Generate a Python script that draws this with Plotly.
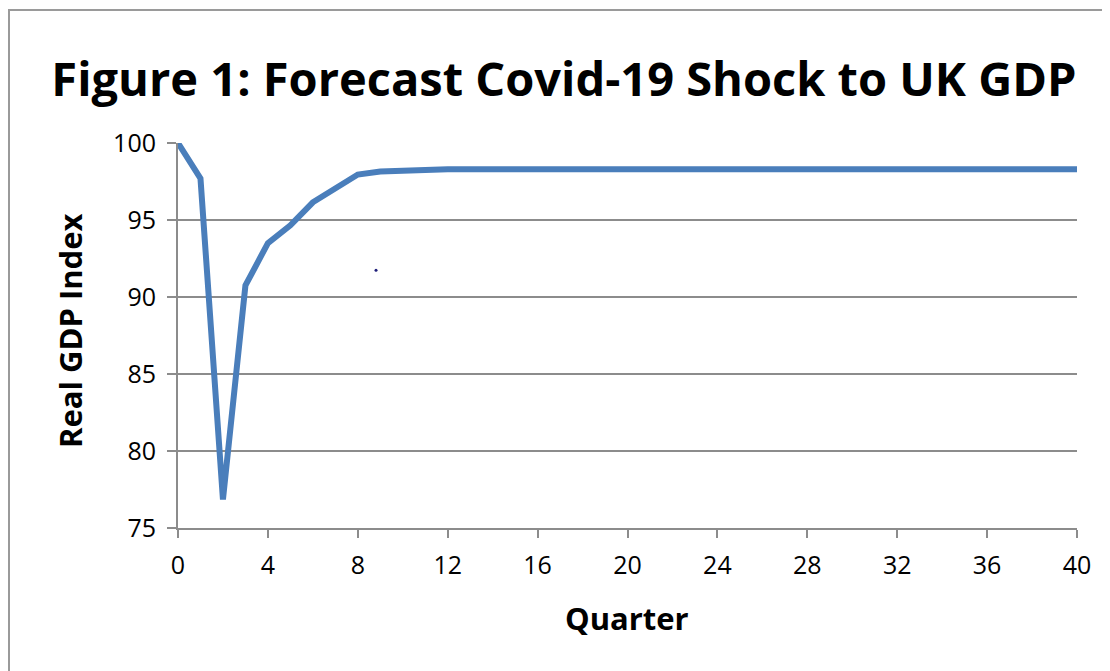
import plotly.graph_objects as go

quarters = list(range(0, 41))
gdp_index = [100.0, 97.7, 76.85, 90.75, 93.5, 94.65, 96.15, 97.1, 97.95, 98.15, 98.2, 98.3] + [98.3] * 29
dot_x = [8.81]
dot_y = [91.73]

x_ticks = list(range(0, 41, 4))
y_ticks = [75, 80, 85, 90, 95, 100]

title_text = "Figure 1: Forecast Covid-19 Shock to UK GDP"
x_title = "Quarter"
y_title = "Real GDP Index"

fig = go.Figure()
fig.add_trace(go.Scatter(x=quarters, y=gdp_index, mode="lines",
                         line=dict(color="#4A7EBB", width=6), showlegend=False,
                         cliponaxis=False))
fig.add_trace(go.Scatter(x=dot_x, y=dot_y, mode="markers",
                         marker=dict(color="#1F1F7A", size=3), showlegend=False))

grid_col = "#8C8C8C"
W, H = 1102, 663
L, R, T, B = 170, 33, 135, 143
pw = W - L - R
ph = H - T - B

fig.update_layout(
    width=W, height=H,
    margin=dict(l=L, r=R, t=T, b=B),
    paper_bgcolor="white", plot_bgcolor="white",
    font=dict(family="Open Sans, Lato, sans-serif", color="#000000"),
    title=dict(text=title_text, x=556 / W, xanchor="center", y=1 - 72 / H, yanchor="middle",
               font=dict(family="Open Sans", size=47, color="#000000", weight="bold")),
    xaxis=dict(range=[0, 40], tickvals=x_ticks, ticks="outside", ticklen=8, tickwidth=2,
               tickcolor=grid_col, showline=True, linecolor=grid_col, linewidth=2,
               showgrid=False, zeroline=False, ticklabelstandoff=6,
               tickfont=dict(size=25, family="Open Sans")),
    yaxis=dict(range=[75, 100], tickvals=y_ticks, ticks="outside", ticklen=9, tickwidth=2,
               tickcolor=grid_col, showline=True, linecolor=grid_col, linewidth=2,
               showgrid=True, gridcolor=grid_col, gridwidth=2, zeroline=False,
               ticklabelstandoff=6,
               tickfont=dict(size=25, family="Open Sans")),
    annotations=[
        dict(text=y_title, xref="paper", yref="paper", x=(62 - L) / pw, y=1 - (323 - T) / ph,
             xanchor="center", yanchor="middle", textangle=-90, showarrow=False,
             font=dict(size=31, family="Open Sans", weight="bold", color="#000000")),
        dict(text=x_title, xref="paper", yref="paper", x=(619 - L) / pw, y=-(610 - (T + ph)) / ph,
             xanchor="center", yanchor="middle", showarrow=False,
             font=dict(size=31, family="Open Sans", weight="bold", color="#000000")),
    ],
    shapes=[dict(type="path", xref="paper", yref="paper",
                 path=f"M {(1 - L) / pw} -0.5 L {(1 - L) / pw} {1 + (T - 2) / ph} L 1.2 {1 + (T - 2) / ph}",
                 line=dict(color="#9A9A9A", width=2))],
)

fig.write_html("out.html")
